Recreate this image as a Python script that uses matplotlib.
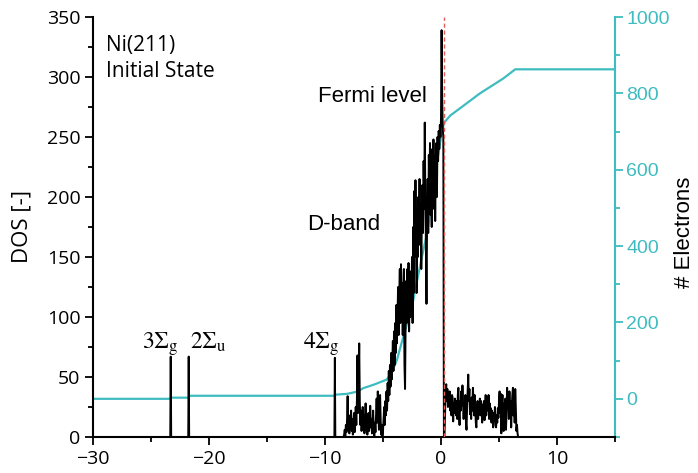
import numpy as np
import matplotlib
matplotlib.use("Agg")
import matplotlib.pyplot as plt
from matplotlib.ticker import MultipleLocator

plt.rcParams['font.family'] = ['Open Sans', 'DejaVu Sans']
plt.rcParams['mathtext.fontset'] = 'stix'

# ---- data -------------------------------------------------------------
# isolated molecular-like states below the valence band
sigma_energy = [-23.3, -21.75, -9.15]
sigma_height = [67, 67, 66]
sigma_labels = ['3', '2', '4']
sigma_subs = ['g', 'u', 'g']

# d-band DOS, sampled every 0.05 eV from -8.40 eV up to the Fermi level
dband_start = -8.40
dband_dos = [
    0, 2, 6, 1, 10, 4, 14, 34,
    6, 12, 3, 18, 8, 22, 5, 15, 2, 9, 20, 4, 12, 25, 10, 30, 68, 20, 45, 78,
    30, 10, 22, 5, 14, 25, 8, 18, 3, 12, 28, 6, 16, 2, 10, 20, 5, 14, 26, 8,
    15, 3, 10, 22, 7, 1, 12, 4, 18, 32, 12, 38, 20, 6, 28, 35, 14, 2, 10, 0,
    5, 15, 25, 10, 30, 18, 38, 22, 45, 30, 55, 35, 60, 42, 70, 48, 62, 80, 55, 88,
    60, 95, 70, 110, 78, 100, 125, 85, 118, 140, 95, 144, 110, 128, 85, 120, 140, 60, 40, 95,
    130, 95, 140, 110, 145, 88, 125, 100, 138, 115, 150, 95, 175, 120, 205, 150, 214, 165, 120, 190,
    150, 200, 175, 215, 160, 195, 140, 185, 210, 170, 230, 190, 262, 200, 160, 111, 180, 215, 170, 235,
    200, 245, 185, 230, 175, 240, 190, 248, 205, 235, 180, 225, 245, 200, 250, 230, 255, 240, 260, 250,
    265, 339, 285, 258, 250, 0,
]

# sp states above the Fermi level, sampled every 0.05 eV from 0.30 eV
sp_start = 0.30
sp_dos = [
    0, 20, 38, 44, 30, 40, 25, 36, 28, 38, 22, 30, 18, 35, 33, 13, 28, 20, 32, 25,
    18, 30, 15, 35, 41, 20, 10, 30, 22, 38, 26, 43, 30, 15, 28, 20, 35, 12, 6, 25,
    38, 52, 30, 40, 19, 28, 15, 33, 22, 41, 30, 18, 35, 25, 12, 8, 22, 30, 15, 26,
    20, 32, 18, 30, 24, 12, 27, 20, 30, 14, 25, 35, 18, 28, 33, 22, 35, 15, 28, 19,
    24, 12, 22, 16, 8, 20, 14, 25, 10, 8, 18, 12, 24, 16, 30, 38, 20, 36, 3, 25,
    35, 15, 5, 28, 18, 32, 6, 20, 41, 28, 33, 15, 38, 20, 30, 8, 25, 35, 41, 18,
    33, 12, 40, 25, 5, 10, 3, 0, 0,
]
dos_step = 0.05

# integrated number of electrons
elec_energy = [-30, -23.4, -23.25, -21.8, -21.65, -9.2, -9.05, -8.1, -7.2, -6.7,
               -5.8, -4.7, -4.25, -3.8, -3.4, -3.0, -2.5, -2.1, -1.7, -1.2,
               -0.8, -0.4, 0.05, 0.26, 0.8, 1.6, 3.36, 5.37, 6.4, 15]
elec_count = [0, 0, 3, 3, 8, 8, 11, 13, 19, 28,
              37, 50, 68, 102, 146, 189, 242, 303, 364, 434,
              512, 608, 695, 723, 742, 760, 800, 839, 863, 863]

fermi_energy = 0.26

# ---- assemble the DOS curve ---------------------------------------------
e_parts = [np.array([-30.0])]
d_parts = [np.array([0.0])]
for e, h in zip(sigma_energy, sigma_height):
    e_parts.append(np.array([e - 0.04, e, e + 0.04]))
    d_parts.append(np.array([0.0, h, 0.0]))
e_parts.append(dband_start + dos_step * np.arange(len(dband_dos)))
d_parts.append(np.array(dband_dos, dtype=float))
e_parts.append(sp_start + dos_step * np.arange(len(sp_dos)))
d_parts.append(np.array(sp_dos, dtype=float))
e_parts.append(np.array([15.0]))
d_parts.append(np.array([0.0]))
energy = np.concatenate(e_parts)
dos = np.concatenate(d_parts)

# ---- figure -------------------------------------------------------------
W, H = 698, 473
fig = plt.figure(figsize=(W / 100, H / 100), dpi=100)
ax = fig.add_axes([93 / W, 36 / H, 522 / W, 420 / H])
teal = '#3fbcc0'

ax.plot(energy, dos, color='black', lw=1.4, zorder=3)
ax.axvline(fermi_energy, color='#e0605a', lw=1.0, ls=(0, (3, 2)), zorder=4)

ax.set_xlim(-30, 15)
ax.set_ylim(0, 350)
ax.xaxis.set_major_locator(MultipleLocator(10))
ax.xaxis.set_minor_locator(MultipleLocator(5))
ax.yaxis.set_major_locator(MultipleLocator(50))
ax.yaxis.set_minor_locator(MultipleLocator(25))
for s in ('top', 'right'):
    ax.spines[s].set_visible(False)
for s in ('left', 'bottom'):
    ax.spines[s].set_linewidth(1.5)
ax.tick_params(which='major', direction='out', length=6, width=1.3,
               labelsize=14, pad=3)
ax.tick_params(which='minor', direction='out', length=3.5, width=1.3)

ax2 = ax.twinx()
ax2.plot(elec_energy, elec_count, color=teal, lw=1.6, zorder=2)
ax2.set_ylim(-100, 1000)
ax2.yaxis.set_major_locator(MultipleLocator(200))
ax2.yaxis.set_minor_locator(MultipleLocator(100))
for s in ('top', 'left', 'bottom'):
    ax2.spines[s].set_visible(False)
ax2.spines['right'].set_color(teal)
ax2.spines['right'].set_linewidth(1.5)
ax2.tick_params(axis='y', which='major', direction='out', length=6, width=1.3,
                colors=teal, labelsize=14, pad=2)
ax2.tick_params(axis='y', which='minor', direction='out', length=3.5, width=1.3,
                colors=teal)
for lab in ax2.get_yticklabels():
    lab.set_family('Liberation Sans')
ax.set_zorder(ax2.get_zorder() + 1)
ax.patch.set_visible(False)

# ---- annotations --------------------------------------------------------
ax.text(-28.9, 335, 'Ni(211)\nInitial State', fontsize=15, va='top',
        ha='left', linespacing=1.3)
ax.text(-10.6, 284, 'Fermi level', fontsize=16, va='center', ha='left',
        family='Liberation Sans')
ax.text(-11.5, 177, 'D-band', fontsize=16, va='center', ha='left',
        family='Liberation Sans')
sigma_x = [-25.8, -21.6, -11.9]
for x, n, sub in zip(sigma_x, sigma_labels, sigma_subs):
    ax.text(x, 74, r'$\mathrm{%s\Sigma_{%s}}$' % (n, sub), fontsize=17,
            va='baseline', ha='left')

fig.text(22 / W, 1 - 226 / H, 'DOS [-]', rotation=90, ha='center',
         va='center', fontsize=16)
fig.text(684 / W, 1 - 232 / H, '# Electrons', rotation=90, ha='center',
         va='center', fontsize=16, family='Liberation Sans')

fig.savefig('out.png', dpi=100)
